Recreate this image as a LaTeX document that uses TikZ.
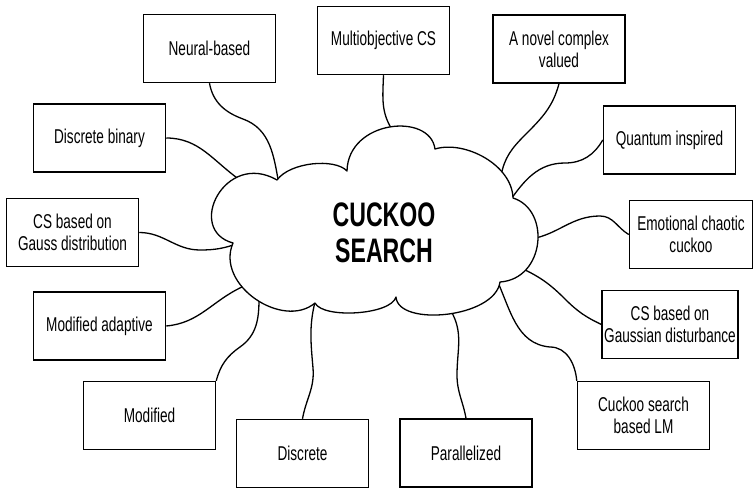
\documentclass[tikz,border=0pt]{standalone}
\usepackage{fontspec}
\setmainfont{Liberation Sans}[FakeStretch=0.68]
\usetikzlibrary{positioning}

\begin{document}
\begin{tikzpicture}[x=1pt, y=-1pt,
    topic/.style={draw, line width=1.5pt, minimum width=132pt, minimum height=68pt,
        inner sep=2pt, align=center, font=\fontsize{20}{22}\selectfont},
    link/.style={line width=1.3pt},
    cloudline/.style={line width=1.3pt, line join=round, fill=white}]
    \useasboundingbox (0,0) rectangle (755,489);

    % cusps of the cloud
    \coordinate (l) at (233,243);
    \coordinate (tl) at (277,180);
    \coordinate (t) at (347,171);
    \coordinate (tr) at (435,149);
    \coordinate (r) at (513,198);
    \coordinate (br) at (500,282);
    \coordinate (b) at (396,297);
    \coordinate (bl) at (315,303);

    % where the links end
    \coordinate (ptl) at (279,185);
    \coordinate (pdb) at (240,180);
    \coordinate (pl) at (239,243);
    \coordinate (pma) at (242,287);
    \coordinate (pmd) at (259,299);
    \coordinate (pbl) at (316,298);
    \coordinate (ppz) at (451,311);
    \coordinate (pbr) at (496,278);
    \coordinate (pgs) at (521,268);
    \coordinate (pec) at (531,239);
    \coordinate (pr) at (509,202);
    \coordinate (pnc) at (501,176);
    \coordinate (pmo) at (393,131);

    \node[topic] (nb) at (209.5,48.5) {Neural-based};
    \node[topic] (mo) at (383.5,40.5) {Multiobjective CS};
    \node[topic] (nc) at (559,49) {A novel complex\\valued};
    \node[topic] (db) at (99.5,138) {Discrete binary};
    \node[topic] (qi) at (669.5,140) {Quantum inspired};
    \node[topic] (gd) at (72.5,232.5) {CS based on\\Gauss distribution};
    \node[topic, minimum width=123pt] (ec) at (691,234.5) {Emotional chaotic\\cuckoo};
    \node[topic] (ma) at (99.5,326) {Modified adaptive};
    \node[topic, minimum width=135pt] (gs) at (670,324.5) {CS based on\\Gaussian disturbance};
    \node[topic] (md) at (149.5,415.5) {Modified};
    \node[topic] (lm) at (643.5,415.5) {Cuckoo search\\based LM};
    \node[topic] (dc) at (302.5,453.5) {Discrete};
    \node[topic] (pz) at (466,453) {Parallelized};

    \draw[link] (nb.south) to[out=-80,in=160] (243,119) to[out=-20,in=100] (ptl);
    \draw[link] (db.east) to[out=0,in=145] (pdb);
    \draw[link] (gd.east) to[out=0,in=180] (200,250) to[out=0,in=200] (pl);
    \draw[link] (ma.east) to[out=5,in=205] (pma);
    \draw[link] (md.north east) to[out=75,in=215] (240,347) to[out=35,in=-90] (pmd);
    \draw[link] (dc.north) to[out=80,in=-85] (313,368) to[out=95,in=-105] (pbl);
    \draw[link] (pz.north) to[out=100,in=-90] (457,375) to[out=90,in=-60] (ppz);
    \draw[link] (lm.north west) to[out=95,in=0] (550,347) to[out=175,in=-65] (pbr);
    \draw[link] (gs.west) to[out=155,in=-45] (565,299) to[out=135,in=-25] (pgs);
    \draw[link] (ec.west) to[out=150,in=0] (600,216) to[out=180,in=10] (pec);
    \draw[link] (qi.west) to[out=-120,in=0] (565,163) to[out=180,in=55] (pr);
    \draw[link] (nc.south) to[out=-105,in=45] (525,135) to[out=-135,in=80] (pnc);
    \draw[link] (mo.south) to[out=-92,in=124] (pmo);

    % the cloud
    \draw[cloudline] (l) .. controls (185,230) and (225,150) .. (tl)
        .. controls (290,162) and (335,158) .. (t)
        .. controls (348,120) and (430,112) .. (tr)
        .. controls (465,140) and (512,165) .. (r)
        .. controls (551,210) and (545,279) .. (br)
        .. controls (495,318) and (398,327) .. (b)
        .. controls (391,315) and (323,319) .. (bl)
        .. controls (283,330) and (215,285) .. cycle;

    \node[font=\fontsize{34}{36}\selectfont\bfseries, align=center] (cs) at (384,233) {CUCKOO\\SEARCH};
\end{tikzpicture}
\end{document}
